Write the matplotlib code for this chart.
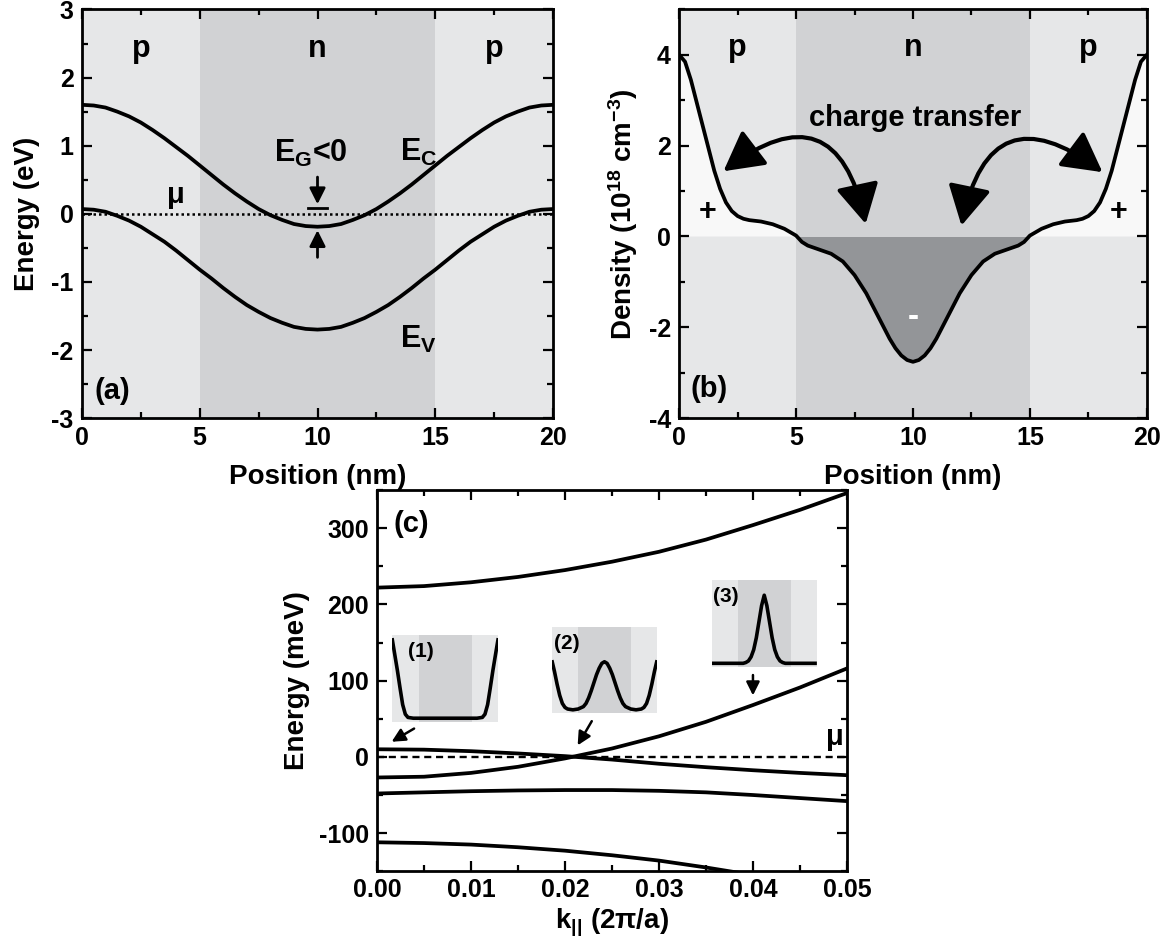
import matplotlib
matplotlib.use("Agg")
import matplotlib.pyplot as plt
from matplotlib.patches import FancyArrowPatch
from matplotlib.ticker import MultipleLocator, FormatStrFormatter

plt.rcParams['font.family'] = ['Liberation Sans', 'DejaVu Sans']
plt.rcParams['font.weight'] = 'bold'
plt.rcParams['axes.labelweight'] = 'bold'
plt.rcParams['axes.unicode_minus'] = False
plt.rcParams['mathtext.fontset'] = 'custom'
plt.rcParams['mathtext.rm'] = 'Liberation Sans:bold'
plt.rcParams['mathtext.it'] = 'Liberation Sans:bold'
plt.rcParams['mathtext.bf'] = 'Liberation Sans:bold'

# ---- data -------------------------------------------------------------
# layers of the p-n-p structure (nm)
layer_edges = [0, 5, 15, 20]
layer_names = ["p", "n", "p"]

# (a) band edges vs position
pos_a = [0, 0.5, 1, 1.5, 2, 2.5, 3, 3.5, 4, 4.5, 5, 5.5, 6, 6.5, 7, 7.5, 8, 8.5, 9, 9.5, 10,
         10.5, 11, 11.5, 12, 12.5, 13, 13.5, 14, 14.5, 15, 15.5, 16, 16.5, 17, 17.5, 18,
         18.5, 19, 19.5, 20]
e_c = [1.60, 1.59, 1.56, 1.50, 1.43, 1.34, 1.23, 1.11, 0.98, 0.85, 0.71, 0.57, 0.43,
       0.30, 0.18, 0.07, -0.02, -0.09, -0.15, -0.18, -0.19,
       -0.18, -0.15, -0.09, -0.02, 0.07, 0.18, 0.30, 0.43, 0.57, 0.71, 0.85, 0.98,
       1.11, 1.23, 1.34, 1.43, 1.50, 1.56, 1.59, 1.60]
e_v = [0.07, 0.06, 0.03, -0.03, -0.10, -0.19, -0.30, -0.41, -0.54, -0.68, -0.82, -0.95,
       -1.09, -1.22, -1.34, -1.44, -1.53, -1.60, -1.66, -1.69, -1.70,
       -1.69, -1.66, -1.60, -1.53, -1.44, -1.34, -1.22, -1.09, -0.95, -0.82, -0.68,
       -0.54, -0.41, -0.30, -0.19, -0.10, -0.03, 0.03, 0.06, 0.07]

# (b) charge density (1e18 cm^-3)
pos_b = [0, 0.25, 0.5, 0.75, 1.0, 1.25, 1.5, 1.75, 2.0, 2.25, 2.5, 2.75, 3.0, 3.5, 4.0,
         4.5, 5.0, 5.25, 5.5, 6.0, 6.5, 7.0, 7.5, 8.0, 8.5, 9.0, 9.25, 9.5, 9.75, 10.0,
         10.25, 10.5, 10.75, 11.0, 11.5, 12.0, 12.5, 13.0, 13.5, 14.0, 14.5, 14.75, 15.0,
         15.5, 16.0, 16.5, 17.0, 17.25, 17.5, 17.75, 18.0, 18.25, 18.5, 18.75, 19.0,
         19.25, 19.5, 19.75, 20.0]
rho = [4.00, 3.85, 3.45, 2.95, 2.45, 1.95, 1.45, 1.05, 0.75, 0.56, 0.45, 0.39, 0.36,
       0.33, 0.27, 0.17, 0.02, -0.12, -0.20, -0.29, -0.38, -0.55, -0.85, -1.25, -1.75,
       -2.25, -2.46, -2.62, -2.72, -2.76,
       -2.72, -2.62, -2.46, -2.25, -1.75, -1.25, -0.85, -0.55, -0.38, -0.29, -0.20,
       -0.12, 0.02, 0.17, 0.27, 0.33, 0.36, 0.39, 0.45, 0.56, 0.75, 1.05, 1.45, 1.95,
       2.45, 2.95, 3.45, 3.85, 4.00]

# (c) subband dispersion (meV) vs k (2pi/a)
k_par = [0, 0.005, 0.01, 0.015, 0.02, 0.025, 0.03, 0.035, 0.04, 0.045, 0.05]
band_1 = [222, 224, 229, 236, 245, 256, 269, 285, 304, 324, 346]
band_2 = [10, 9.5, 7.5, 4.5, 1, -3.5, -9, -13.5, -17.5, -21, -24]
band_3 = [-27, -26, -21, -13, -2, 11, 27, 46, 68, 91, 116]
band_4 = [-48, -46.5, -45, -44, -43.5, -43.5, -44.5, -46.5, -50, -54, -58]
band_5 = [-112, -113, -115, -118.5, -123, -129, -136, -145, -155, -166, -178]

# inset wavefunction profiles (arb. units) vs position
pos_in = [0, 0.5, 1, 1.5, 2, 2.5, 3, 4, 5, 6, 6.5, 7, 7.5, 8, 8.5, 9, 9.5, 10,
          10.5, 11, 11.5, 12, 12.5, 13, 13.5, 14, 15, 16, 17, 17.5, 18, 18.5, 19, 19.5, 20]
psi_1 = [1.0, 0.80, 0.60, 0.38, 0.17, 0.05, 0.01, 0, 0, 0, 0, 0, 0, 0, 0, 0, 0, 0,
         0, 0, 0, 0, 0, 0, 0, 0, 0, 0, 0.01, 0.05, 0.17, 0.38, 0.60, 0.80, 1.0]
psi_2 = [0.62, 0.48, 0.32, 0.18, 0.08, 0.03, 0.01, 0, 0.01, 0.04, 0.08, 0.15, 0.24,
         0.34, 0.44, 0.52, 0.58, 0.60, 0.58, 0.52, 0.44, 0.34, 0.24, 0.15, 0.08,
         0.04, 0.01, 0, 0.01, 0.03, 0.08, 0.18, 0.32, 0.48, 0.62]
psi_3 = [0, 0, 0, 0, 0, 0, 0, 0, 0, 0.0, 0.01, 0.03, 0.08, 0.17, 0.32, 0.52, 0.72, 0.85,
         0.72, 0.52, 0.32, 0.17, 0.08, 0.03, 0.01, 0.0, 0, 0, 0, 0, 0, 0, 0, 0, 0]

LIGHT = "#e6e7e8"
DARK = "#d1d2d4"
FILL_NEG = "#939598"
FILL_POS = "#f8f8f8"
LW = 2.7
TICK = 18
LABEL = 20

fig = plt.figure(figsize=(11.69, 9.46), dpi=100)
ax_a = fig.add_axes([0.0701, 0.558, 0.403, 0.432])
ax_b = fig.add_axes([0.581, 0.558, 0.400, 0.432])
ax_c = fig.add_axes([0.3225, 0.079, 0.402, 0.403])


def style_axes(ax, xmaj, xmin, ymaj, ymin):
    ax.xaxis.set_major_locator(MultipleLocator(xmaj))
    ax.xaxis.set_minor_locator(MultipleLocator(xmin))
    ax.yaxis.set_major_locator(MultipleLocator(ymaj))
    ax.yaxis.set_minor_locator(MultipleLocator(ymin))
    ax.tick_params(which='both', direction='in', top=True, right=True, width=1.6,
                   labelsize=TICK, pad=6)
    ax.tick_params(which='major', length=7)
    ax.tick_params(which='minor', length=4)
    for s in ax.spines.values():
        s.set_linewidth(2)


def shade_layers(ax, with_labels=True, label_y=None):
    for i, name in enumerate(layer_names):
        ax.axvspan(layer_edges[i], layer_edges[i + 1],
                   color=DARK if name == "n" else LIGHT, lw=0, zorder=0)
        if with_labels:
            ax.text((layer_edges[i] + layer_edges[i + 1]) / 2, label_y, name,
                    ha='center', va='center', fontsize=22)


# ---- (a) --------------------------------------------------------------
shade_layers(ax_a, label_y=2.42)
ax_a.plot(pos_a, e_c, color='k', lw=LW)
ax_a.plot(pos_a, e_v, color='k', lw=LW)
ax_a.axhline(0, color='k', lw=1.8, ls=(0, (1, 1.2)))
ax_a.set_xlim(0, 20)
ax_a.set_ylim(-3, 3)
style_axes(ax_a, 5, 2.5, 1, 0.5)
ax_a.set_xlabel("Position (nm)", fontsize=LABEL, labelpad=10)
ax_a.set_ylabel("Energy (eV)", fontsize=LABEL, labelpad=8)
ax_a.text(4.0, 0.28, "μ", fontsize=21, ha='center', va='center')
ax_a.text(14.3, 0.9, "E$_\\mathregular{C}$", fontsize=22, ha='center', va='center')
ax_a.text(14.3, -1.85, "E$_\\mathregular{V}$", fontsize=22, ha='center', va='center')
ax_a.text(9.7, 0.88, "E$_\\mathregular{G}$<0", fontsize=22, ha='center', va='center')
ax_a.annotate('', xy=(10, 0.1), xytext=(10, 0.58),
              arrowprops=dict(arrowstyle='-|>', color='k', lw=2, mutation_scale=24))
ax_a.plot([9.6, 10.4], [0.09, 0.09], color='k', lw=2)
ax_a.annotate('', xy=(10, -0.2), xytext=(10, -0.68),
              arrowprops=dict(arrowstyle='-|>', color='k', lw=2, mutation_scale=24))
ax_a.text(1.3, -2.6, "(a)", fontsize=21, ha='center', va='center')

# ---- (b) --------------------------------------------------------------
shade_layers(ax_b, label_y=4.15)
ax_b.fill_between(pos_b, 0, rho, where=[r >= 0 for r in rho], interpolate=True,
                  color=FILL_POS, lw=0, zorder=1)
ax_b.fill_between(pos_b, 0, rho, where=[r <= 0 for r in rho], interpolate=True,
                  color=FILL_NEG, lw=0, zorder=1)
ax_b.plot(pos_b, rho, color='k', lw=LW, zorder=3)
ax_b.set_xlim(0, 20)
ax_b.set_ylim(-4, 5)
style_axes(ax_b, 5, 2.5, 2, 1)
ax_b.set_xlabel("Position (nm)", fontsize=LABEL, labelpad=10)
ax_b.set_ylabel("Density (10$^{18}$ cm$^{-3}$)", fontsize=LABEL, labelpad=6)
ax_b.text(10.1, 2.62, "charge transfer", fontsize=21, ha='center', va='center')
ax_b.text(1.2, 0.55, "+", fontsize=22, ha='center', va='center')
ax_b.text(18.8, 0.55, "+", fontsize=22, ha='center', va='center')
ax_b.text(10.0, -1.78, "-", fontsize=24, ha='center', va='center', color='white')
ax_b.text(1.3, -3.35, "(b)", fontsize=21, ha='center', va='center')
for tail, tip in [((1.8, 1.4), (8.0, 0.22)), ((12.05, 0.18), (18.2, 1.38))]:
    arr = FancyArrowPatch(tail, tip, connectionstyle="arc3,rad=-0.8",
                          arrowstyle="<|-|>,head_length=1.1,head_width=0.6",
                          mutation_scale=22, lw=3, color='k', zorder=4)
    ax_b.add_patch(arr)

# ---- (c) --------------------------------------------------------------
for band in [band_1, band_2, band_3, band_4, band_5]:
    ax_c.plot(k_par, band, color='k', lw=LW)
ax_c.axhline(0, color='k', lw=1.7, ls=(0, (3, 2)))
ax_c.set_xlim(0, 0.05)
ax_c.set_ylim(-150, 350)
style_axes(ax_c, 0.01, 0.005, 100, 50)
ax_c.tick_params(axis='x', pad=5)
ax_c.xaxis.set_major_formatter(FormatStrFormatter('%.2f'))
ax_c.set_xlabel("k$_{||}$ (2π/a)", fontsize=LABEL, labelpad=3)
ax_c.set_ylabel("Energy (meV)", fontsize=LABEL, labelpad=6)
ax_c.text(0.0018, 305, "(c)", fontsize=21, ha='left', va='center')
ax_c.text(0.0487, 8, "μ", fontsize=21, ha='center', va='bottom')

insets = [([0.0016, 46, 0.0113, 114], psi_1, "(1)", 3.0),
          ([0.0186, 57, 0.0112, 114], psi_2, "(2)", 0.4),
          ([0.0356, 118, 0.0112, 114], psi_3, "(3)", 0.3)]
for bounds, psi, tag, tag_x in insets:
    ins = ax_c.inset_axes(bounds, transform=ax_c.transData)
    shade_layers(ins, with_labels=False)
    ins.plot(pos_in, psi, color='k', lw=2.6, solid_capstyle='butt')
    ins.set_xlim(0, 20)
    ins.set_ylim(-0.045, 1.04)
    ins.set_xticks([])
    ins.set_yticks([])
    for s in ins.spines.values():
        s.set_visible(False)
    ins.text(tag_x, 0.95, tag, fontsize=15, ha='left', va='top')

for tail, tip in [((0.0042, 39), (0.0013, 18)),
                  ((0.0230, 50), (0.0212, 12)),
                  ((0.0400, 111), (0.0400, 77))]:
    ax_c.annotate('', xy=tip, xytext=tail,
                  arrowprops=dict(arrowstyle='-|>', color='k', lw=1.8, mutation_scale=20))

fig.savefig("out.png", dpi=100)
